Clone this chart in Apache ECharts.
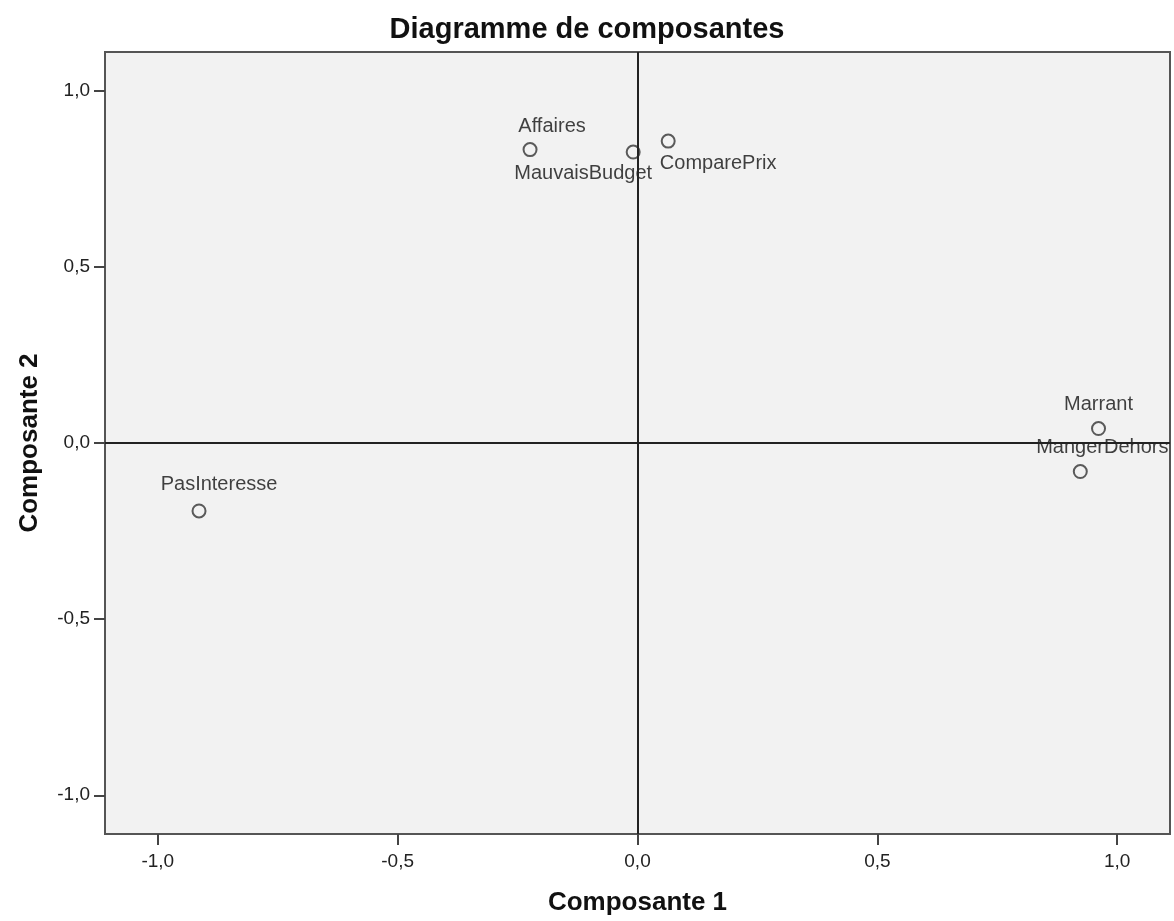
<!DOCTYPE html>
<html>
<head>
<meta charset="utf-8">
<script src="https://cdn.jsdelivr.net/npm/echarts@6/dist/echarts.min.js"></script>
<style>
  html, body { margin: 0; padding: 0; background: #ffffff; }
  #chart { width: 1174px; height: 921px; }
</style>
</head>
<body>
<div id="chart"></div>
<script>
// Component loadings (Composante 1, Composante 2)
const variables = ['Affaires', 'MauvaisBudget', 'ComparePrix', 'Marrant', 'MangerDehors', 'PasInteresse'];
const comp1 = [-0.224, -0.009, 0.064, 0.961, 0.923, -0.914];
const comp2 = [0.833, 0.826, 0.857, 0.041, -0.081, -0.193];
const tickValues = [-1.0, -0.5, 0.0, 0.5, 1.0];

// Where each variable name sits around its marker
const labelLayout = {
  'Affaires':     { position: 'top',    offset: [22, -1] },
  'MauvaisBudget':{ position: 'bottom', offset: [-50, -1] },
  'ComparePrix':  { position: 'bottom', offset: [50, 0] },
  'Marrant':      { position: 'top',    offset: [0, -2] },
  'MangerDehors': { position: 'top',    offset: [22, -2] },
  'PasInteresse': { position: 'top',    offset: [20, -4] }
};

const fmt = v => v.toFixed(1).replace('.', ',');
const FONT = '"Liberation Sans", Arial, sans-serif';

const points = variables.map((name, i) => ({
  name: name,
  value: [comp1[i], comp2[i]],
  label: labelLayout[name]
}));

const axisCommon = {
  type: 'value',
  min: -1.11, max: 1.11,
  nameLocation: 'middle',
  nameTextStyle: { fontFamily: FONT, fontSize: 26, fontWeight: 'bold', color: '#111' },
  splitLine: { show: false },
  axisLine: { show: true, onZero: false, lineStyle: { color: '#555', width: 2 } },
  axisTick: { show: true, inside: false, length: 11, customValues: tickValues, lineStyle: { color: '#444', width: 2 } }
};

const chart = echarts.init(document.getElementById('chart'));
chart.setOption({
  animation: false,
  backgroundColor: '#ffffff',
  title: {
    text: 'Diagramme de composantes',
    left: 'center',
    top: 10,
    textStyle: { fontFamily: FONT, fontSize: 29, fontWeight: 'bold', color: '#111' }
  },
  grid: {
    left: 105, right: 4, top: 52, bottom: 85,
    show: true,
    backgroundColor: '#f2f2f2',
    borderColor: '#555',
    borderWidth: 2
  },
  xAxis: Object.assign({}, axisCommon, {
    name: 'Composante 1',
    nameGap: 56,
    axisLabel: { customValues: tickValues, formatter: fmt, margin: 18, fontFamily: FONT, fontSize: 19, color: '#222' }
  }),
  yAxis: Object.assign({}, axisCommon, {
    name: 'Composante 2',
    nameGap: 62,
    nameRotate: 90,
    axisLabel: { customValues: tickValues, formatter: fmt, margin: 15, fontFamily: FONT, fontSize: 19, color: '#222' }
  }),
  series: [{
    type: 'scatter',
    data: points,
    symbol: 'circle',
    symbolSize: 13,
    itemStyle: { color: 'rgba(0,0,0,0)', borderColor: '#333', borderWidth: 2 },
    label: {
      show: true,
      formatter: p => p.name,
      distance: 5,
      fontFamily: FONT,
      fontSize: 20,
      color: '#111'
    },
    markLine: {
      silent: true,
      symbol: 'none',
      label: { show: false },
      lineStyle: { color: '#222', width: 2, type: 'solid' },
      data: [{ xAxis: 0 }, { yAxis: 0 }]
    },
    z: 3
  }]
});
</script>
</body>
</html>
